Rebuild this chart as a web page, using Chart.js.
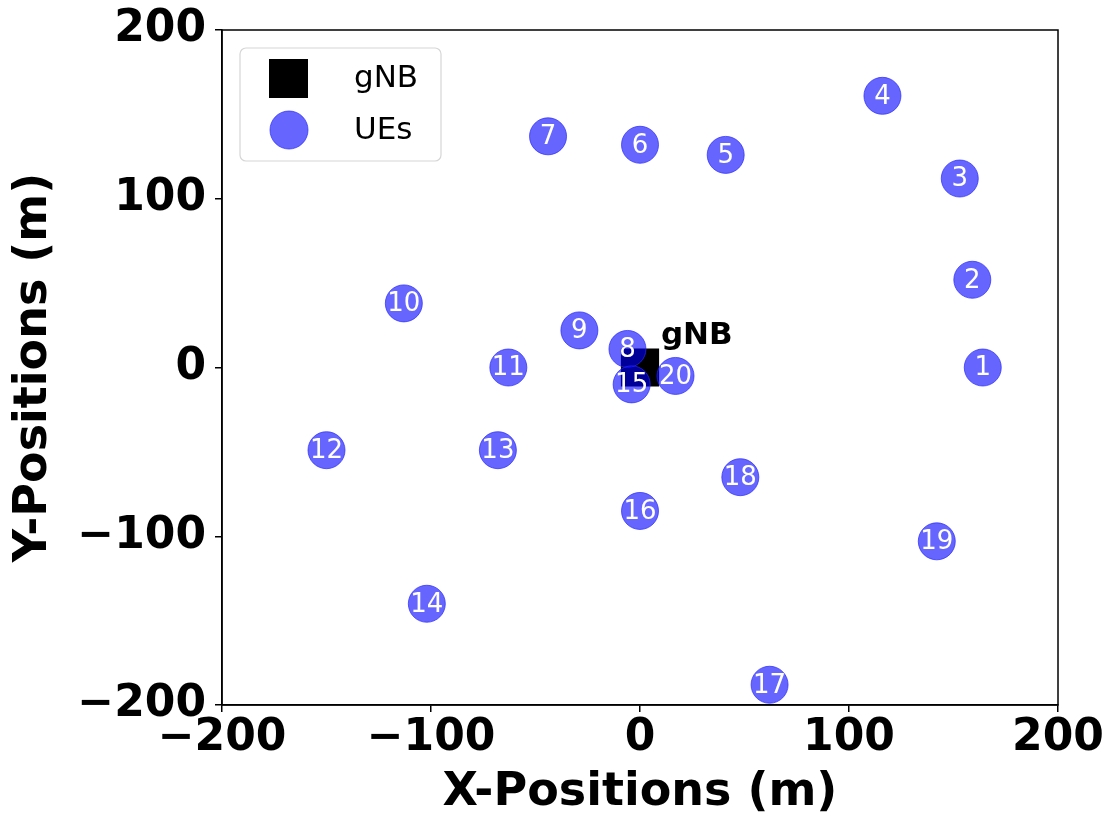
<!DOCTYPE html>
<html>
<head>
<meta charset="utf-8">
<script src="https://cdn.jsdelivr.net/npm/chart.js@4/dist/chart.umd.min.js"></script>
<style>
  html, body { margin: 0; padding: 0; background: #fff; }
  #wrap { width: 1115px; height: 816px; }
</style>
</head>
<body>
<div id="wrap"><canvas id="posChart"></canvas></div>
<script>
// positions (metres)
let gnbX = [0];
let gnbY = [0];
let ueX = [164, 159, 153, 116, 41, 0, -44, -6, -29, -113, -63, -150, -68, -102, -4, 0, 62, 48, 142, 17];
let ueY = [0, 52, 112, 161, 126, 132, 137, 11, 22, 38, 0, -49, -49, -140, -10, -85, -188, -65, -103, -5];
let ueNames = ["1","2","3","4","5","6","7","8","9","10","11","12","13","14","15","16","17","18","19","20"];
let axisTicks = [-200, -100, 0, 100, 200];

const ueFill = "rgba(0, 0, 255, 0.6)";
const ueEdge = "rgba(40, 40, 255, 0.7)";

function toPoints(xs, ys) {
    return xs.map((x, i) => ({ x: x, y: ys[i] }));
}

// box around the plot, like a matplotlib frame
const framePlugin = {
    id: "frame",
    afterDraw(chart) {
        const a = chart.chartArea;
        const ctx = chart.ctx;
        ctx.save();
        ctx.strokeStyle = "#000";
        ctx.lineWidth = 1.5;
        ctx.strokeRect(a.left, a.top, a.right - a.left, a.bottom - a.top);
        ctx.restore();
    }
};

// numbers on the UE circles and the gNB tag
const labelPlugin = {
    id: "labels",
    afterDatasetsDraw(chart) {
        const ctx = chart.ctx;
        const xs = chart.scales.x, ys = chart.scales.y;
        ctx.save();
        ctx.fillStyle = "#fff";
        ctx.font = "26px 'DejaVu Sans'";
        ctx.textAlign = "center";
        ctx.textBaseline = "middle";
        ueX.forEach((x, i) => {
            ctx.fillText(ueNames[i], xs.getPixelForValue(x), ys.getPixelForValue(ueY[i]) + 1);
        });
        ctx.fillStyle = "#000";
        ctx.font = "bold 31px 'DejaVu Sans'";
        ctx.textAlign = "left";
        ctx.textBaseline = "alphabetic";
        ctx.fillText("gNB", xs.getPixelForValue(gnbX[0] + 10), ys.getPixelForValue(gnbY[0] + 14));
        ctx.restore();
    }
};

// legend box in the upper left corner of the plot
const legendPlugin = {
    id: "boxLegend",
    afterDraw(chart) {
        const a = chart.chartArea;
        const ctx = chart.ctx;
        const x0 = a.left + 18, y0 = a.top + 18, w = 201, h = 113;
        ctx.save();
        ctx.fillStyle = "rgba(255,255,255,0.8)";
        ctx.strokeStyle = "#d6d6d6";
        ctx.lineWidth = 1.2;
        ctx.beginPath();
        ctx.roundRect(x0, y0, w, h, 6);
        ctx.fill();
        ctx.stroke();

        ctx.fillStyle = "#000";
        ctx.fillRect(x0 + 29, y0 + 11, 39, 39);

        ctx.beginPath();
        ctx.arc(x0 + 49, y0 + 82, 19, 0, Math.PI * 2);
        ctx.fillStyle = ueFill;
        ctx.fill();
        ctx.strokeStyle = ueEdge;
        ctx.lineWidth = 1;
        ctx.stroke();

        ctx.fillStyle = "#000";
        ctx.font = "31px 'DejaVu Sans'";
        ctx.textBaseline = "middle";
        ctx.fillText(chart.data.datasets[0].label, x0 + 114, y0 + 31);
        ctx.fillText(chart.data.datasets[1].label, x0 + 114, y0 + 83);
        ctx.restore();
    }
};

const tickFont = { family: "DejaVu Sans", size: 44, weight: "bold" };
const titleFont = { family: "DejaVu Sans", size: 46, weight: "bold", lineHeight: 1.0 };

new Chart(document.getElementById("posChart"), {
    type: "scatter",
    data: {
        datasets: [{
            label: "gNB",
            data: toPoints(gnbX, gnbY),
            pointStyle: "rect",
            pointRadius: 27,
            pointHoverRadius: 27,
            backgroundColor: "#000",
            borderColor: "#000",
            borderWidth: 0,
            order: 1
        }, {
            label: "UEs",
            data: toPoints(ueX, ueY),
            pointStyle: "circle",
            pointRadius: 18.5,
            pointHoverRadius: 18.5,
            backgroundColor: ueFill,
            borderColor: ueEdge,
            borderWidth: 1,
            order: 0
        }]
    },
    options: {
        responsive: true,
        maintainAspectRatio: false,
        animation: false,
        layout: { padding: { top: 30, right: 57, left: 0, bottom: 0 } },
        plugins: {
            legend: { display: false },
            tooltip: { enabled: false }
        },
        scales: {
            x: {
                type: "linear",
                min: -200,
                max: 200,
                afterFit(scale) {
                    scale.height = 111;
                    scale.paddingLeft = 0;
                    scale.paddingRight = 0;
                },
                afterBuildTicks(scale) { scale.ticks = axisTicks.map(v => ({ value: v })); },
                ticks: {
                    font: tickFont,
                    color: "#000",
                    padding: 0,
                    maxRotation: 0,
                    callback: v => String(v).replace("-", "\u2212")
                },
                grid: { drawOnChartArea: false, drawTicks: true, tickLength: 7, color: "#000", lineWidth: 1.5 },
                border: { display: true, color: "#000", width: 1.5 },
                title: { display: true, text: "X-Positions (m)", font: titleFont, color: "#000", padding: { top: 0, bottom: 0 } }
            },
            y: {
                type: "linear",
                min: -200,
                max: 200,
                afterFit(scale) {
                    scale.width = 222;
                    scale.paddingTop = 0;
                    scale.paddingBottom = 0;
                },
                afterBuildTicks(scale) { scale.ticks = axisTicks.map(v => ({ value: v })); },
                ticks: {
                    font: tickFont,
                    color: "#000",
                    padding: 9,
                    callback: v => String(v).replace("-", "\u2212")
                },
                grid: { drawOnChartArea: false, drawTicks: true, tickLength: 7, color: "#000", lineWidth: 1.5 },
                border: { display: true, color: "#000", width: 1.5 },
                title: { display: true, text: "Y-Positions (m)", font: titleFont, color: "#000", padding: { top: 11, bottom: 0 } }
            }
        }
    },
    plugins: [framePlugin, labelPlugin, legendPlugin]
});
</script>
</body>
</html>
